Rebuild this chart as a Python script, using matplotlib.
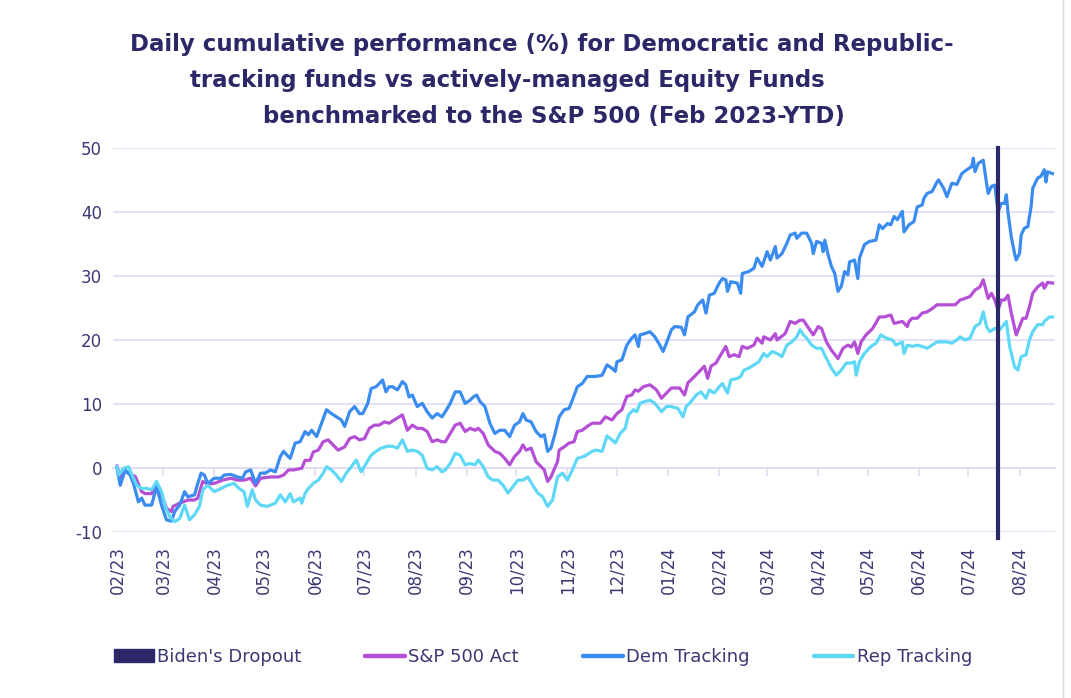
import matplotlib
matplotlib.use('Agg')
import matplotlib.pyplot as plt
import matplotlib.dates as mdates
from matplotlib.lines import Line2D
from matplotlib.patches import Patch
import pandas as pd

# ---------------- data (day offset from 2023-02-01, cumulative %) ----------------
start_date = '2023-02-01'
dropout_date = '2024-07-19'

sp500 = [(0,0.3),(2,-1.5),(5,-0.5),(8,-1.0),(11,-1.3),(15,-3.7),(17,-4.0),(21,-4.0),(24,-2.4),(27,-4.2),
(30,-6.3),(33,-6.8),(34,-6.0),(38,-5.5),(43,-5.0),(47,-5.0),(49,-4.7),(52,-2.1),(55,-2.5),(59,-2.4),
(64,-1.9),(69,-1.6),(73,-1.9),(77,-1.9),(81,-1.6),(84,-2.8),(87,-1.6),(93,-1.4),(98,-1.4),(101,-1.1),
(104,-0.3),(107,-0.3),(112,-0.05),(114,1.2),(117,1.2),(119,2.5),(122,2.8),(125,4.1),(128,4.4),(131,3.6),
(134,2.8),(138,3.3),(141,4.6),(144,4.9),(147,4.4),(150,4.6),(153,6.2),(156,6.7),(159,6.7),(162,7.2),
(165,7.0),(168,7.5),(173,8.3),(176,5.9),(179,6.7),(182,6.2),(185,6.2),(188,5.7),(191,4.1),(194,4.4),
(197,4.1),(199,4.1),(202,5.4),(205,6.7),(208,7.0),(211,5.7),(214,6.2),(217,5.9),(219,6.2),(222,5.4),
(225,3.6),(229,2.6),(232,2.3),(235,1.5),(238,0.5),(241,1.8),(244,2.6),(246,3.6),(248,2.8),(251,3.1),
(254,1.0),(257,0.2),(259,-0.3),(261,-2.1),(263,-1.4),(267,1.0),(268,2.8),(271,3.3),(274,3.9),(277,4.1),
(279,5.7),(282,5.9),(285,6.5),(288,7.0),(293,7.0),(296,8.0),(300,7.5),(303,8.5),(306,9.1),(309,11.2),
(312,11.4),(314,12.2),(316,12.0),(319,12.7),(323,13.0),(327,12.2),(330,10.9),(333,11.7),(336,12.5),(341,12.5),
(344,11.4),(346,13.3),(350,14.3),(353,15.1),(356,15.9),(358,14.0),(360,15.9),(363,16.4),(366,17.7),(369,19.0),
(371,17.4),(374,17.7),(377,17.4),(379,19.0),(382,18.7),(386,19.2),(388,20.3),(391,19.5),(392,20.5),(396,20.0),
(399,21.0),(400,20.0),(405,21.0),(408,22.9),(411,22.6),(414,23.1),(416,23.1),(418,22.3),(422,20.8),(425,22.1),
(427,21.8),(430,19.7),(433,18.4),(437,17.1),(440,18.7),(443,19.2),(445,18.9),(447,19.7),(449,17.9),(451,19.7),
(454,20.8),(458,21.8),(462,23.6),(465,23.6),(469,23.9),(471,22.6),(476,22.9),(479,22.1),(480,22.9),(482,23.4),
(485,23.4),(488,24.2),(491,24.4),(494,24.9),(497,25.5),(501,25.5),(504,25.5),(508,25.5),(511,26.25),(514,26.5),
(517,26.8),(520,27.8),(523,28.3),(525,29.4),(528,26.5),(530,27.3),(532,26.25),(534,24.7),(536,26.25),(538,26.25),
(540,27.0),(542,24.2),(545,20.8),(547,22.1),(549,23.4),(551,23.4),(553,25.2),(555,27.3),(558,28.3),(561,28.9),
(562,28.1),(564,29.0),(567,28.9)]

dem = [(0,0.0),(2,-2.7),(5,-0.3),(8,-1.1),(10,-2.4),(13,-5.3),(15,-4.7),(17,-5.8),(21,-5.8),(24,-2.9),
(27,-5.8),(30,-8.1),(33,-8.3),(35,-6.8),(38,-5.8),(41,-3.7),(43,-4.5),(47,-4.2),(49,-2.4),(51,-0.8),
(53,-1.1),(55,-2.4),(59,-1.6),(63,-1.6),(65,-1.1),(69,-1.0),(73,-1.4),(76,-1.6),(78,-0.6),(81,-0.3),
(84,-2.4),(87,-0.8),(90,-0.8),(93,-0.3),(96,-0.6),(99,1.8),(101,2.6),(102,2.3),(105,1.5),(108,3.9),
(111,4.1),(114,5.7),(116,5.2),(118,5.9),(121,4.9),(124,7.0),(127,9.1),(130,8.5),(133,8.0),(136,7.5),
(138,6.5),(141,8.8),(144,9.6),(147,8.5),(149,8.5),(152,10.1),(154,12.4),(157,12.7),(159,13.2),(161,13.75),
(163,11.9),(165,12.7),(167,12.7),(170,12.2),(173,13.5),(175,13.0),(177,11.1),(179,11.4),(182,9.6),(185,10.1),
(188,8.8),(191,7.8),(194,8.5),(197,8.0),(199,8.8),(202,10.1),(205,11.9),(208,11.9),(211,10.1),(214,10.6),
(216,11.1),(218,11.4),(220,10.4),(223,9.6),(226,7.0),(229,5.4),(232,5.9),(235,5.9),(238,4.9),(241,6.7),
(244,7.2),(246,8.5),(248,7.5),(251,7.2),(254,5.7),(257,4.9),(259,5.2),(261,2.6),(263,3.1),(265,4.9),
(268,8.0),(271,9.1),(274,9.3),(276,10.6),(279,12.7),(282,13.2),(285,14.3),(290,14.3),(294,14.5),(297,16.1),
(300,15.6),(302,15.1),(303,16.6),(306,16.9),(309,19.2),(312,20.3),(314,20.8),(316,19.0),(317,20.8),(320,21.0),
(323,21.3),(326,20.5),(329,19.2),(331,18.2),(333,19.5),(336,21.6),(338,22.1),(342,22.0),(344,20.8),(346,23.6),
(350,24.4),(352,25.5),(355,26.25),(357,24.2),(359,27.0),(362,27.3),(365,28.9),(367,29.6),(369,29.4),(370,27.6),
(372,29.1),(376,28.9),(378,27.3),(379,30.4),(383,30.7),(386,31.2),(388,32.8),(391,31.5),(394,33.8),(396,32.5),
(399,34.6),(400,32.8),(403,33.5),(406,35.1),(408,36.4),(411,36.7),(412,35.9),(415,36.7),(418,36.7),(421,35.1),
(422,33.5),(424,35.4),(427,35.1),(428,33.8),(429,35.6),(431,33.3),(433,31.5),(435,30.4),(437,27.6),(439,28.4),
(441,30.7),(443,30.2),(444,32.2),(447,32.5),(449,29.6),(450,32.8),(453,34.9),(456,35.4),(460,35.6),(462,38.0),
(464,37.4),(467,38.2),(469,38.0),(471,39.3),(473,38.8),(476,40.1),(477,36.9),(480,38.0),(483,38.5),(485,40.8),
(488,41.1),(489,42.1),(491,42.9),(494,43.2),(497,44.7),(498,45.0),(501,43.7),(503,42.4),(506,44.5),(509,44.3),
(512,46.0),(515,46.6),(518,47.1),(519,48.4),(520,46.3),(522,47.6),(525,48.1),(527,44.5),(528,42.9),(530,44.0),
(532,44.2),(534,40.0),(536,41.35),(538,41.35),(539,42.7),(540,40.0),(542,36.1),(544,33.5),(545,32.5),(547,33.5),
(548,36.4),(550,37.5),(552,37.7),(554,40.8),(555,43.7),(558,45.3),(560,45.6),(562,46.6),(563,44.7),(564,46.3),
(567,46.0)]

rep = [(0,0.2),(1,-1.1),(4,-0.05),(7,0.2),(10,-1.6),(12,-2.7),(15,-3.2),(18,-3.2),(21,-3.4),(24,-2.1),
(27,-3.7),(29,-5.8),(32,-7.6),(35,-8.4),(38,-7.9),(41,-5.8),(44,-8.1),(47,-7.3),(50,-6.0),(52,-3.4),
(55,-2.7),(59,-3.7),(63,-3.2),(67,-2.7),(71,-2.4),(74,-3.2),(77,-3.7),(79,-6.0),(82,-3.4),(84,-5.0),
(87,-5.8),(91,-6.0),(96,-5.5),(99,-4.2),(102,-5.3),(105,-4.0),(107,-5.3),(111,-4.7),(112,-5.5),(114,-4.0),
(116,-3.2),(119,-2.4),(122,-1.9),(125,-0.8),(127,0.2),(130,-0.3),(133,-1.1),(136,-2.1),(139,-0.8),(142,0.2),
(145,1.25),(148,-0.6),(151,0.7),(154,2.0),(157,2.6),(160,3.1),(164,3.4),(167,3.4),(170,3.1),(173,4.4),
(176,2.6),(179,2.8),(182,2.6),(185,2.0),(188,-0.05),(191,-0.3),(194,0.2),(197,-0.6),(199,-0.3),(202,0.7),
(205,2.3),(208,2.0),(211,0.5),(214,0.7),(217,0.5),(219,1.25),(222,0.2),(225,-1.4),(228,-1.9),(231,-1.9),
(234,-2.7),(237,-3.9),(240,-2.9),(243,-1.9),(246,-1.9),(249,-1.4),(252,-2.7),(255,-3.9),(258,-4.5),(261,-6.0),
(264,-5.0),(267,-1.4),(270,-0.8),(273,-1.9),(276,-0.3),(279,1.5),(283,1.8),(288,2.6),(290,2.8),(294,2.6),
(297,5.0),(300,4.4),(302,3.9),(305,5.4),(308,6.2),(310,8.3),(313,9.1),(315,8.8),(317,10.1),(320,10.4),
(323,10.6),(326,10.1),(330,8.8),(333,9.6),(336,9.6),(340,9.3),(343,8.0),(345,9.6),(348,10.4),(351,11.4),
(354,11.9),(357,10.9),(359,12.2),(362,11.7),(365,12.7),(367,13.2),(370,11.7),(372,13.75),(376,14.0),(378,14.3),
(380,15.3),(383,15.6),(386,16.1),(389,16.6),(392,17.9),(394,17.4),(397,18.2),(400,17.9),(403,17.4),(406,19.2),
(409,19.7),(412,20.5),(414,21.6),(416,20.8),(418,20.3),(421,19.2),(424,18.7),(427,18.7),(430,17.1),(433,15.6),
(436,14.5),(439,15.3),(442,16.4),(445,16.4),(447,16.6),(448,14.5),(450,16.6),(453,17.9),(457,19.0),(460,19.5),
(463,20.8),(466,20.3),(470,20.0),(472,19.2),(476,19.7),(477,17.9),(479,19.2),(482,19.0),(485,19.2),(488,19.0),
(491,18.7),(494,19.2),(497,19.7),(500,19.7),(503,19.7),(506,19.5),(509,20.0),(511,20.5),(514,20.0),(517,20.3),
(520,22.1),(523,22.6),(525,24.4),(527,22.1),(529,21.3),(532,21.8),(535,21.6),(539,22.9),(541,19.0),(544,15.8),
(546,15.3),(548,17.4),(551,17.7),(553,20.0),(555,21.3),(558,22.4),(561,22.4),(562,22.9),(565,23.6),(567,23.6)]

tick_labels = ['02/23','03/23','04/23','05/23','06/23','07/23','08/23','09/23','10/23','11/23',
               '12/23','01/24','02/24','03/24','04/24','05/24','06/24','07/24','08/24']
y_ticks = [-10, 0, 10, 20, 30, 40, 50]

series_names = ["S&P 500 Act", "Dem Tracking", "Rep Tracking"]
dropout_label = "Biden's Dropout"
title_lines = ["Daily cumulative performance (%) for Democratic and Republic-",
               "tracking funds vs actively-managed Equity Funds",
               "benchmarked to the S&P 500 (Feb 2023-YTD)"]

# ---------------- styling ----------------
NAVY = '#2c2868'
TXT = '#3b3873'
GRID = '#e1def4'
COLORS = ['#b44fd6', '#3b8cf0', '#5ed8f6']
FONT = 'DejaVu Sans'

start = pd.Timestamp(start_date)
def to_num(days):
    return mdates.date2num(start + pd.to_timedelta(list(days), unit='D'))

fig = plt.figure(figsize=(10.71, 6.98), dpi=100)
W, H = 1071, 698
ax = fig.add_axes([113 / W, 1 - 532 / H, (1055 - 113) / W, (532 - 148) / H])

for data, col, name in zip([sp500, dem, rep], COLORS, series_names):
    d, v = zip(*data)
    ax.plot(to_num(d), v, color=col, lw=2.3, solid_joinstyle='round', label=name, zorder=3)

xd = mdates.date2num(pd.Timestamp(dropout_date))
ax.plot([xd, xd], [-11, 50], color=NAVY, lw=3.0, clip_on=False, zorder=4)

ax.set_ylim(-10, 50)
ax.set_xlim(mdates.date2num(start - pd.Timedelta(days=2.4)),
            mdates.date2num(start + pd.Timedelta(days=568.5)))
ax.set_yticks(y_ticks)
ax.set_yticklabels([str(t) for t in y_ticks])
ax.grid(axis='y', color=GRID, lw=1.3, zorder=0)
ax.set_axisbelow(True)
for s in ax.spines.values():
    s.set_visible(False)

month_nums = mdates.date2num(pd.date_range(start, periods=len(tick_labels), freq='MS'))
ax.set_xticks(month_nums)
ax.set_xticklabels(tick_labels, rotation=90, fontsize=12, color=TXT, family=FONT)
ax.tick_params(axis='x', length=0, pad=10)
ax.tick_params(axis='y', length=0, pad=8, labelsize=12, labelcolor=TXT)
for lab in ax.get_yticklabels():
    lab.set_family(FONT)

# axis line with tick marks at y = 0
sec = ax.secondary_xaxis((0 - (-10)) / 60)
sec.set_xticks(month_nums)
sec.set_xticklabels([])
sec.tick_params(axis='x', direction='out', length=6, width=1.3, color=GRID)
sec.spines['bottom'].set_color(GRID)
sec.spines['bottom'].set_linewidth(1.3)
for k in ['top', 'left', 'right']:
    if k in sec.spines:
        sec.spines[k].set_visible(False)

# title
centers = [542, 507, 554]
ys = [45, 80, 116]
for line, cx, cy in zip(title_lines, centers, ys):
    fig.text(cx / W, 1 - cy / H, line, ha='center', va='center', fontsize=16.5,
             fontweight='bold', color=NAVY, family=FONT)

# legend
handles = [Patch(facecolor=NAVY, edgecolor=NAVY)] + \
          [Line2D([0], [0], color=c, lw=3.2, solid_capstyle='round') for c in COLORS]
labels = [dropout_label] + series_names
fig.legend(handles, labels, loc='center left', bbox_to_anchor=(114 / W, 1 - 657 / H),
           ncol=4, frameon=False, handlelength=2.2, handleheight=0.7,
           handletextpad=0.18, columnspacing=3.55, borderpad=0, borderaxespad=0,
           labelcolor=TXT, prop={'family': FONT, 'size': 13})

fig.add_artist(Line2D([1063 / W, 1063 / W], [0, 1], color='#d8d8d8', lw=1.0))

fig.savefig('out.png', dpi=100)
